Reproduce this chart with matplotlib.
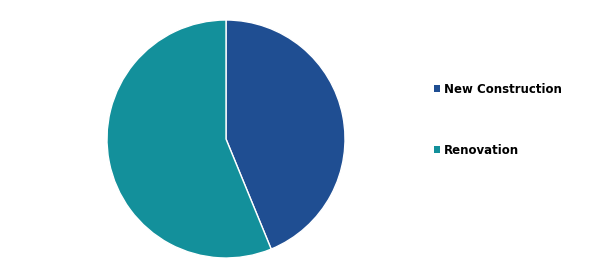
import matplotlib.pyplot as plt
from matplotlib.patches import Patch

# segment data
labels = ["New Construction", "Renovation"]
shares = [43.8, 56.2]
colors = ["#1f4e92", "#13909b"]

fig = plt.figure(figsize=(6.10, 2.69), dpi=100)

# pie axes placed in pixel terms: center (226,139), radius 119
W, H = 610, 269
cx, cy, r = 226, 139, 119
ax = fig.add_axes([(cx - r) / W, (H - cy - r) / H, 2 * r / W, 2 * r / H])
ax.pie(shares, colors=colors, startangle=90, counterclock=False,
       wedgeprops=dict(edgecolor="white", linewidth=1))
ax.set_xlim(-1, 1)
ax.set_ylim(-1, 1)
ax.set_aspect("auto")
ax.axis("off")

handles = [Patch(facecolor=c, edgecolor="none") for c in colors]
leg = fig.legend(handles, labels, loc="upper left",
                 bbox_to_anchor=(423 / W, 1 - 72 / H), frameon=False,
                 handlelength=0.55, handleheight=0.55, handletextpad=0.3,
                 labelspacing=4.1,
                 prop=dict(family="DejaVu Sans", weight="bold", size=8.5))

fig.savefig("out.png", dpi=100)
